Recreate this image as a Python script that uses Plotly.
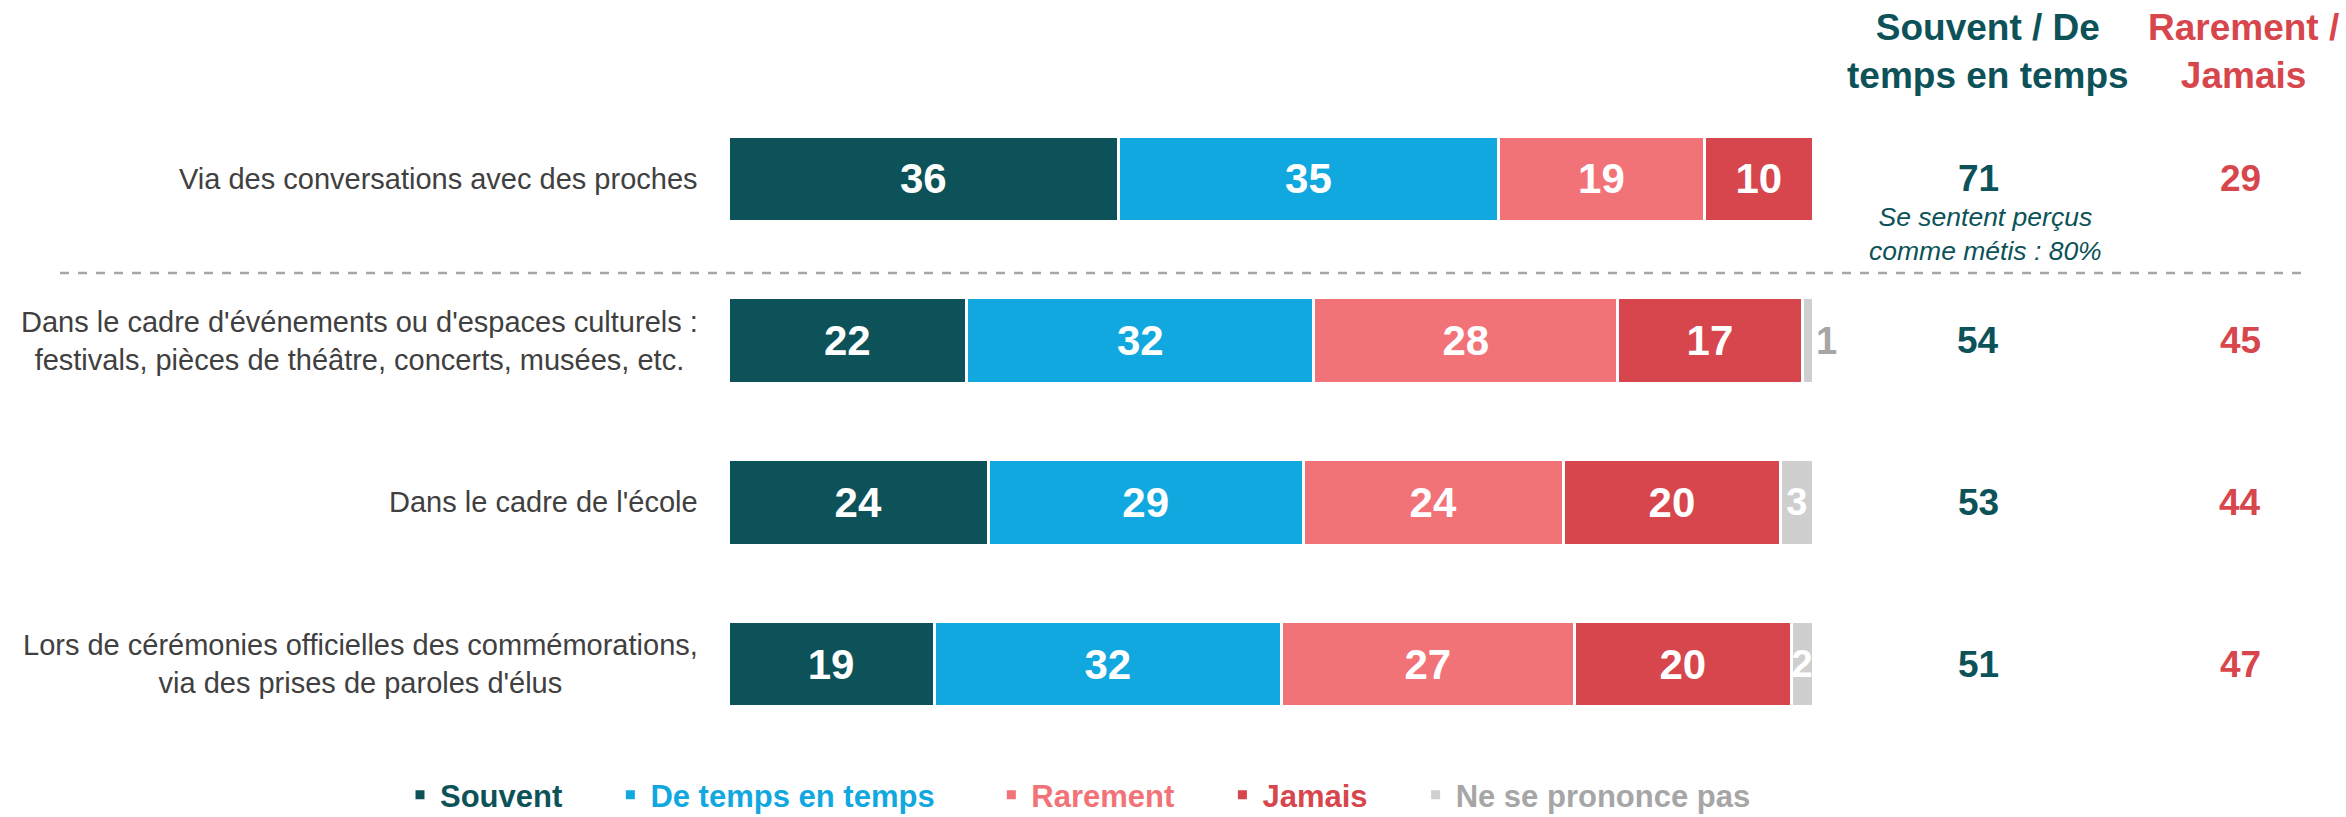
import plotly.graph_objects as go

categories = [
    "Via des conversations avec des proches",
    "Dans le cadre d'événements ou d'espaces culturels :<br>festivals, pièces de théâtre, concerts, musées, etc.",
    "Dans le cadre de l'école",
    "Lors de cérémonies officielles des commémorations,<br>via des prises de paroles d'élus",
]
series_names = ["Souvent", "De temps en temps", "Rarement", "Jamais", "Ne se prononce pas"]
souvent = [36, 22, 24, 19]
de_temps = [35, 32, 29, 32]
rarement = [19, 28, 24, 27]
jamais = [10, 17, 20, 20]
nsp = [None, 1, 3, 2]
total_positive = [71, 54, 53, 51]
total_negative = [29, 45, 44, 47]
header_positive = "Souvent / De<br>temps en temps"
header_negative = "Rarement /<br>Jamais"
subnote = "Se sentent perçus<br>comme métis : 80%"

colors = ["#0c5258", "#11a8e0", "#f27377", "#d8464d", "#d0cfd0"]
TEAL = "#0c5258"
RED = "#d8464d"
FONT = "Liberation Sans, Arial, sans-serif"

W, H = 2346, 817
L, R = 728, 1813
T, B = 98, 745


def px_x(px):
    return (px - L) / (R - L)


def px_y(py):
    return (B - py) / (B - T)


ypos = list(range(len(categories)))
values = [souvent, de_temps, rarement, jamais, nsp]
pads = [5, 6, 5, 5, 0]

fig = go.Figure()
for i, (name, vals, col) in enumerate(zip(series_names, values, colors)):
    if i == 4:
        tp = ["none", "outside", "inside", "inside"]
        tsize = 38
        ct = "none"
    else:
        tp = "inside"
        tsize = 42
        ct = "both"
    label_col = "#a6a6a6" if i == 4 else col
    fig.add_trace(go.Bar(
        y=ypos, x=vals, orientation="h",
        name=f"<span style='color:{label_col}'><b>{name}</b></span>" + "\u00a0" * pads[i],
        marker=dict(color=col, line=dict(color="white", width=3)),
        width=0.53,
        text=[("" if v is None else f"<b>{v}</b>") for v in vals],
        texttemplate="%{text}",
        textposition=tp,
        insidetextanchor="middle",
        constraintext=ct,
        insidetextfont=dict(color="white", size=tsize, family=FONT),
        outsidetextfont=dict(color="#a6a6a6", size=tsize, family=FONT),
        textangle=0,
        cliponaxis=False,
        hoverinfo="skip",
    ))

annotations = []
for i, cat in enumerate(categories):
    annotations.append(dict(
        x=px_x(700), xref="paper", y=i, yref="y", text=cat,
        xanchor="right", yanchor="middle", align="center", showarrow=False,
        font=dict(size=29, color="#404040", family=FONT)))
    annotations.append(dict(
        x=px_x(1978), xref="paper", y=i, yref="y", text=f"<b>{total_positive[i]}</b>",
        xanchor="center", yanchor="middle", showarrow=False,
        font=dict(size=37, color=TEAL, family=FONT)))
    annotations.append(dict(
        x=px_x(2240), xref="paper", y=i, yref="y", text=f"<b>{total_negative[i]}</b>",
        xanchor="center", yanchor="middle", showarrow=False,
        font=dict(size=37, color=RED, family=FONT)))

annotations.append(dict(
    x=px_x(1985), xref="paper", y=px_y(234), yref="paper", text=f"<i>{subnote}</i>",
    xanchor="center", yanchor="middle", align="center", showarrow=False,
    font=dict(size=26.5, color=TEAL, family=FONT)))
annotations.append(dict(
    x=px_x(1988), xref="paper", y=px_y(52), yref="paper", text=f"<b>{header_positive}</b>",
    xanchor="center", yanchor="middle", align="center", showarrow=False,
    font=dict(size=37, color=TEAL, family=FONT)))
annotations.append(dict(
    x=px_x(2243), xref="paper", y=px_y(52), yref="paper", text=f"<b>{header_negative}</b>",
    xanchor="center", yanchor="middle", align="center", showarrow=False,
    font=dict(size=37, color=RED, family=FONT)))

shapes = [dict(
    type="line", xref="paper", yref="paper",
    x0=px_x(60), x1=px_x(2305), y0=px_y(273), y1=px_y(273),
    line=dict(color="#a6a6a6", width=2.5, dash="dash"))]

fig.update_layout(
    width=W, height=H,
    margin=dict(l=L, r=W - R, t=T, b=H - B, pad=0, autoexpand=False),
    barmode="stack",
    plot_bgcolor="white", paper_bgcolor="white",
    font=dict(family=FONT),
    xaxis=dict(range=[0, 100], visible=False, fixedrange=True),
    yaxis=dict(range=[3.5, -0.5], visible=False, fixedrange=True),
    showlegend=True,
    legend=dict(
        orientation="h",
        x=px_x(400), xanchor="left", y=px_y(795), yanchor="middle",
        font=dict(size=31, family=FONT), traceorder="normal",
        bgcolor="rgba(0,0,0,0)", itemclick=False, itemdoubleclick=False),
    annotations=annotations,
    shapes=shapes,
)

fig.write_html("out.html", post_script="document.body.style.margin='0';", config={"displayModeBar": False})
